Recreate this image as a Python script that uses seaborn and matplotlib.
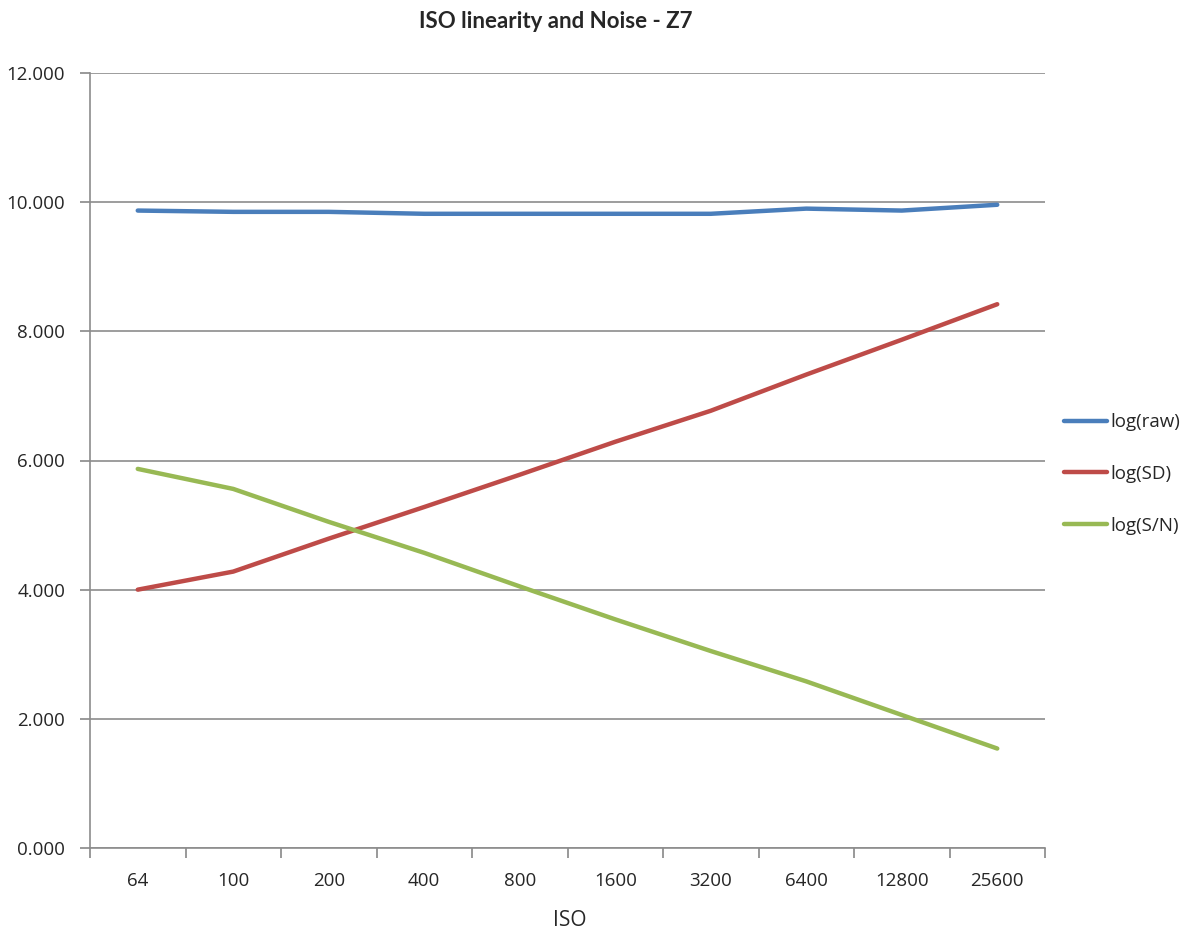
import numpy as np
import pandas as pd
import matplotlib
matplotlib.use("Agg")
import matplotlib.pyplot as plt
import seaborn as sns
from matplotlib.lines import Line2D

iso_labels = ["64", "100", "200", "400", "800", "1600", "3200", "6400", "12800", "25600"]
log_raw = [9.87, 9.85, 9.85, 9.82, 9.82, 9.82, 9.82, 9.90, 9.87, 9.96]
log_sd = [4.00, 4.28, 4.79, 5.28, 5.78, 6.29, 6.77, 7.33, 7.87, 8.42]
log_sn = [5.87, 5.56, 5.05, 4.57, 4.05, 3.54, 3.05, 2.58, 2.06, 1.54]
series_names = ["log(raw)", "log(SD)", "log(S/N)"]
colors = ["#4a7ebb", "#be4b48", "#98b954"]

sns.set_theme(style="white")
plt.rcParams["font.family"] = ["Open Sans", "DejaVu Sans"]

df = pd.DataFrame({
    "ISO": iso_labels * 3,
    "value": log_raw + log_sd + log_sn,
    "series": [series_names[0]] * 10 + [series_names[1]] * 10 + [series_names[2]] * 10,
})

fig = plt.figure(figsize=(11.9, 9.32), dpi=100)
ax = fig.add_axes([90 / 1190, 1 - 848 / 932, (1045 - 90) / 1190, (848 - 73) / 932])

sns.lineplot(data=df, x="ISO", y="value", hue="series", palette=colors,
             linewidth=3.2, ax=ax, sort=False, legend=False)

ax.set_xlim(-0.5, 9.5)
ax.set_ylim(0, 12)
ax.set_yticks(np.arange(0, 12.1, 2))
ax.set_yticklabels([f"{v:.3f}" for v in np.arange(0, 12.1, 2)], fontsize=13.5)
ax.yaxis.grid(True, color="#8c8c8c", linewidth=1.2)
ax.xaxis.grid(False)

ax.set_xticks(np.arange(-0.5, 10, 1))
ax.set_xticklabels([""] * 11)
ax.set_xticks(np.arange(10), minor=True)
ax.set_xticklabels(iso_labels, minor=True, fontsize=13.5)
ax.tick_params(axis="x", which="major", length=7, color="#8c8c8c", direction="out", bottom=True)
ax.tick_params(axis="x", which="minor", length=0, pad=17)
ax.tick_params(axis="y", length=7, color="#8c8c8c", direction="out", left=True, pad=11)

for s in ["top", "right"]:
    ax.spines[s].set_visible(False)
for s in ["left", "bottom"]:
    ax.spines[s].set_color("#8c8c8c")
    ax.spines[s].set_linewidth(1.2)

ax.set_xlabel("")
ax.set_ylabel("")
fig.text(570 / 1190, 1 - 920 / 932, "ISO", ha="center", va="center", fontsize=15)
fig.text(556 / 1190, 1 - 22 / 932, "ISO linearity and Noise - Z7", ha="center", va="center",
         fontsize=16, fontweight="bold", family=["Lato", "DejaVu Sans"])

handles = [Line2D([0], [0], color=c, lw=3.2) for c in colors]
fig.legend(handles, series_names, loc="center left",
           bbox_to_anchor=(1047 / 1190, 1 - 474 / 932), frameon=False,
           fontsize=13.5, handlelength=2.3, handletextpad=0.2, labelspacing=1.8)

fig.savefig("out.png", dpi=100)
